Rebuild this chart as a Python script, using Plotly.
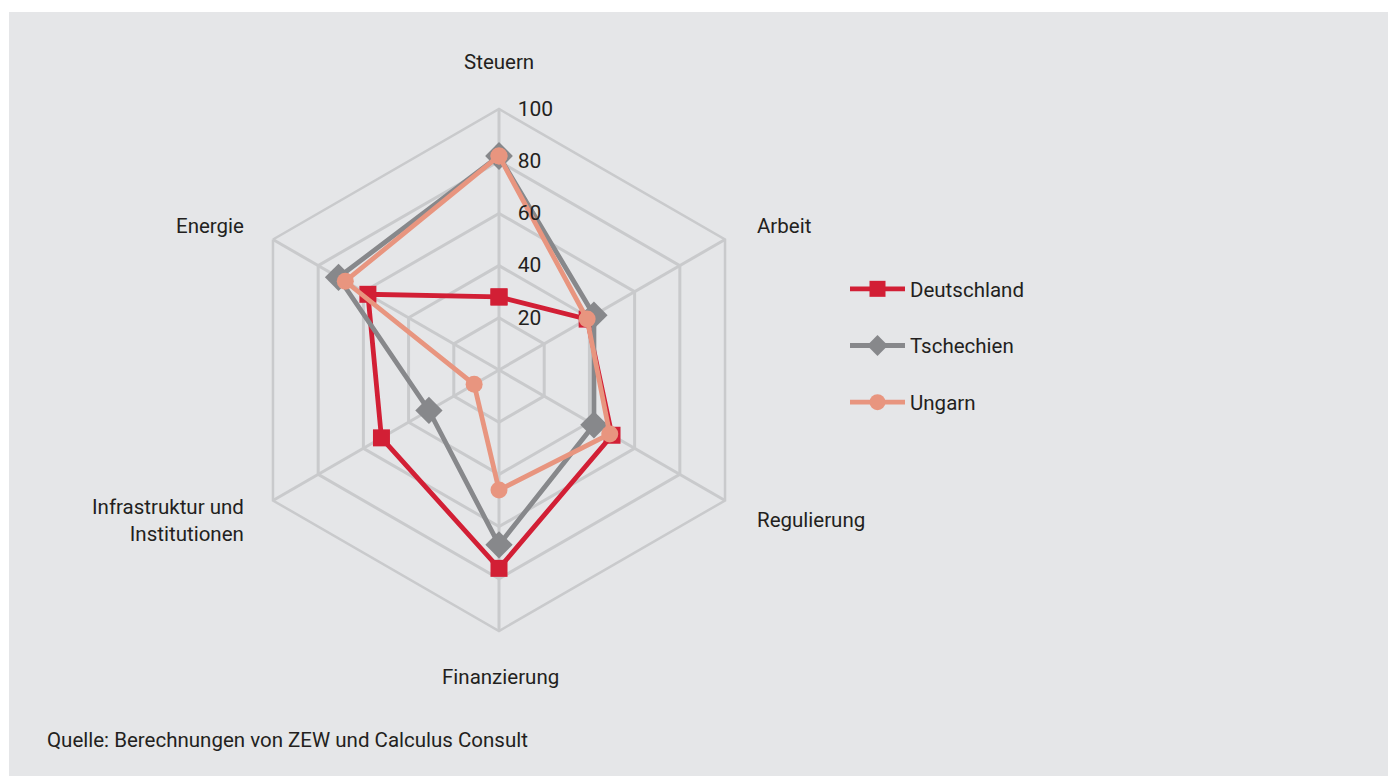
import plotly.graph_objects as go

categories = ["Steuern", "Arbeit", "Regulierung", "Finanzierung",
              "Infrastruktur und<br>Institutionen", "Energie"]
deutschland = [28, 39, 50, 76, 52, 58]
tschechien = [82, 42, 42, 67, 31, 71]
ungarn = [82, 39, 49, 46, 11, 68]
radial_ticks = [20, 40, 60, 80, 100]
source_text = "Quelle: Berechnungen von ZEW und Calculus Consult"

OFF = 8  # page body margin
W, H = 1396 - OFF, 776 - OFF
FONT = "Roboto"
TXT = "#231f20"
BG = "#e5e6e8"
GRID = "#c9cacc"

series = [
    ("Deutschland", deutschland, "#d21f35", "square", 17),
    ("Tschechien", tschechien, "#87888b", "diamond", 21),
    ("Ungarn", ungarn, "#e8957f", "circle", 17),
]

fig = go.Figure()
for name, vals, col, sym, sz in series:
    fig.add_trace(go.Scatterpolar(
        r=vals + vals[:1], theta=categories + categories[:1],
        mode="lines+markers", name=name, legendgroup=name,
        line=dict(color=col, width=4.8),
        marker=dict(symbol=sym, size=sz, color=col),
    ))


def px(x):
    return (x - OFF) / W


def py(y):
    return 1 - (y - OFF) / H


cx, cy, R = 499, 370, 261

# category label placement (screen px): anchor point and alignment
label_layout = [
    (499, 62, "center"),
    (755, 226, "left"),
    (755, 520, "left"),
    (500, 677, "center"),
    (246, 520, "right"),
    (246, 226, "right"),
]
annotations = []
for cat, (lx, ly, al) in zip(categories, label_layout):
    annotations.append(dict(text=cat, xref="paper", yref="paper",
                            x=px(lx), y=py(ly), xanchor=al, yanchor="middle",
                            align=al, showarrow=False,
                            font=dict(size=20.5, color=TXT, family=FONT)))
annotations.append(dict(text=source_text, xref="paper", yref="paper",
                        x=px(45), y=py(740), xanchor="left", yanchor="middle",
                        showarrow=False, font=dict(size=20.5, color=TXT, family=FONT)))

fig.update_layout(
    width=W, height=H,
    margin=dict(l=0, r=0, t=0, b=0),
    paper_bgcolor=BG, plot_bgcolor=BG,
    font=dict(family=FONT, size=20.5, color=TXT),
    polar=dict(
        domain=dict(x=[px(cx - R), px(cx + R)],
                    y=[py(cy + R), py(cy - R)]),
        bgcolor="rgba(0,0,0,0)",
        gridshape="linear",
        radialaxis=dict(range=[0, 100], tickvals=radial_ticks, angle=90,
                        side="clockwise", showline=False, tickangle=90,
                        gridcolor=GRID, gridwidth=2.5,
                        ticks="outside", ticklen=14, tickcolor="rgba(0,0,0,0)",
                        tickfont=dict(size=21, color=TXT, family=FONT)),
        angularaxis=dict(rotation=90, direction="clockwise",
                         showline=True, linecolor=GRID, linewidth=2.5,
                         gridcolor=GRID, gridwidth=2.5, showticklabels=False,
                         ticks=""),
    ),
    legend=dict(x=px(845), y=py(269), xanchor="left", yanchor="top",
                bgcolor="rgba(0,0,0,0)", tracegroupgap=27,
                itemwidth=55, font=dict(size=20.5, color=TXT, family=FONT)),
    showlegend=True,
    shapes=[
        dict(type="rect", xref="paper", yref="paper", x0=0, x1=1,
             y0=py(12), y1=1, fillcolor="white", line=dict(width=0), layer="above"),
        dict(type="rect", xref="paper", yref="paper", x0=0, x1=px(9),
             y0=0, y1=1, fillcolor="white", line=dict(width=0), layer="above"),
    ],
    annotations=annotations,
)

fig.write_html("out.html")
